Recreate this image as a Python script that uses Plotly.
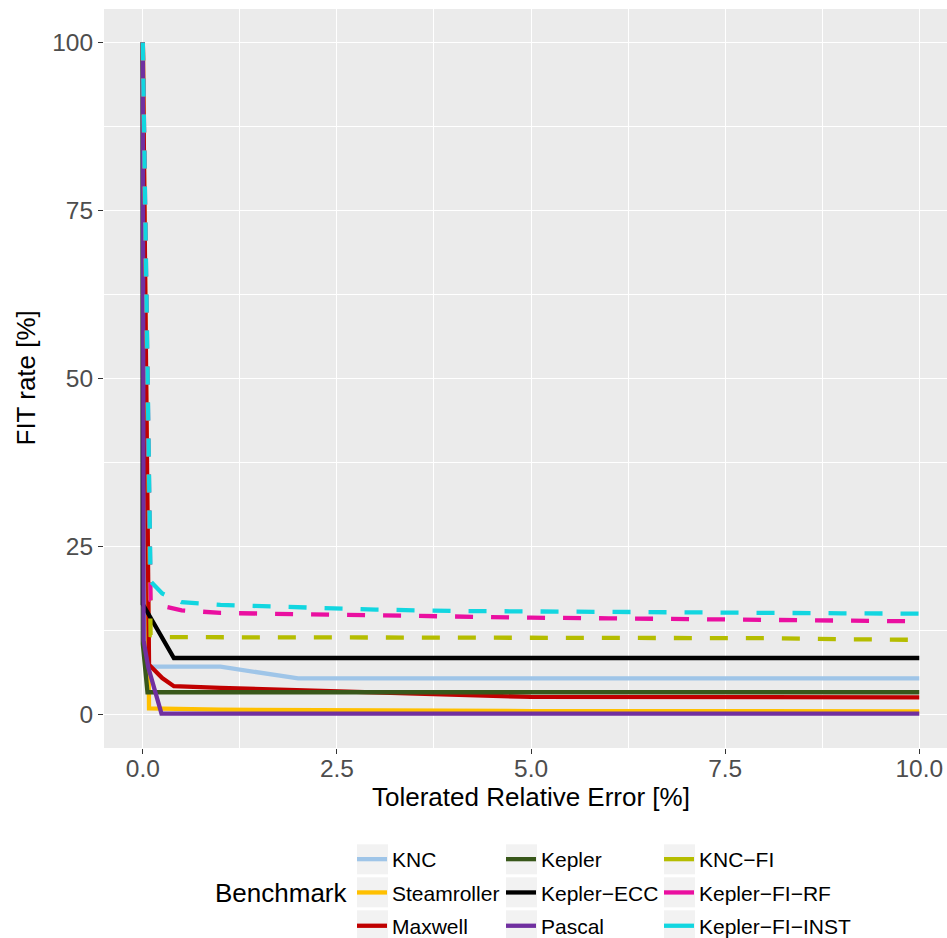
import plotly.graph_objects as go

# Benchmark names, colours and dash styles (solid = beam data, dashed = fault injection)
benchmarks = ["KNC", "Steamroller", "Maxwell", "Kepler", "Kepler\u2212ECC", "Pascal",
              "KNC\u2212FI", "Kepler\u2212FI\u2212RF", "Kepler\u2212FI\u2212INST"]
colors = ["#9FC5E8", "#FFC000", "#C00000", "#38571A", "#000000", "#7030A0",
          "#B5BD00", "#EA0FA0", "#12D6E0"]
dashes = ["solid"] * 6 + ["18px,18px"] * 3

# Tolerated relative error [%] and FIT rate [%] per benchmark
knc_x = [0, 0.06, 1.0, 2.0, 10]
knc_y = [100, 7.1, 7.1, 5.35, 5.35]

steam_x = [0, 0.08, 1, 3, 5, 10]
steam_y = [100, 0.9, 0.7, 0.55, 0.5, 0.45]

maxwell_x = [0, 0.08, 0.25, 0.4, 1, 2, 3, 4, 5, 10]
maxwell_y = [100, 7.4, 5.4, 4.2, 3.95, 3.6, 3.2, 2.85, 2.6, 2.55]

kepler_x = [0, 0, 0.06, 10]
kepler_y = [100, 10.5, 3.3, 3.3]

kepler_ecc_x = [0, 0, 0.4, 10]
kepler_ecc_y = [100, 16.4, 8.4, 8.4]

pascal_x = [0, 0.01, 0.07, 0.24, 10]
pascal_y = [100, 11, 7, 0.12, 0.12]

knc_fi_x = [0, 0.1, 0.3, 3, 7, 8, 9, 10]
knc_fi_y = [100, 11.8, 11.5, 11.45, 11.4, 11.35, 11.2, 11.1]

kepler_fi_rf_x = [0, 0.1, 0.3, 0.5, 1, 2, 3, 4, 5, 6, 7, 8, 9, 10]
kepler_fi_rf_y = [100, 17, 16, 15.5, 15.1, 14.9, 14.7, 14.5, 14.4, 14.3, 14.2, 14.05, 13.95, 13.85]

kepler_fi_inst_x = [0, 0.1, 0.25, 0.5, 1, 2, 3, 4, 5, 6, 7, 8, 9, 10]
kepler_fi_inst_y = [100, 19.8, 18, 16.7, 16.3, 15.9, 15.6, 15.4, 15.3, 15.2, 15.15, 15.1, 15.05, 15.0]

series_x = [knc_x, steam_x, maxwell_x, kepler_x, kepler_ecc_x, pascal_x,
            knc_fi_x, kepler_fi_rf_x, kepler_fi_inst_x]
series_y = [knc_y, steam_y, maxwell_y, kepler_y, kepler_ecc_y, pascal_y,
            knc_fi_y, kepler_fi_rf_y, kepler_fi_inst_y]

x_ticks = [0, 2.5, 5, 7.5, 10]
x_tick_text = ["0.0", "2.5", "5.0", "7.5", "10.0"]
x_minor = [1.25, 3.75, 6.25, 8.75]
y_ticks = [0, 25, 50, 75, 100]
y_minor = [12.5, 37.5, 62.5, 87.5]

W, H = 947, 938
ML, MT, MB = 104, 9, 190
PW, PH = W - ML, H - MT - MB


def px_x(p):
    return (p - ML) / PW


def px_y(p):
    return (H - MB - p) / PH


legend_names = ["legend", "legend2", "legend3"]

fig = go.Figure()
# data lines
for i, (name, xs, ys) in enumerate(zip(benchmarks, series_x, series_y)):
    fig.add_trace(go.Scatter(
        x=xs, y=ys, mode="lines", name=name,
        line=dict(color=colors[i], width=4.3, dash=dashes[i]),
        legendgroup=name, showlegend=False,
    ))
# legend keys (solid swatches, three columns)
for i, name in enumerate(benchmarks):
    fig.add_trace(go.Scatter(
        x=[None], y=[None], mode="lines", name=name,
        line=dict(color=colors[i], width=4.3),
        legend=legend_names[i // 3], legendgroup=name, showlegend=True,
    ))

FONT = "Liberation Sans, Arial, sans-serif"
tick_font = dict(family=FONT, size=24.5, color="#4D4D4D")
title_font = dict(family=FONT, size=26, color="black")
legend_font = dict(family=FONT, size=21, color="black")

axis_common = dict(
    showgrid=True, gridcolor="white", gridwidth=1.4,
    zeroline=False, showline=False,
    ticks="outside", ticklen=5, tickwidth=1.1, tickcolor="#333333",
    tickfont=tick_font, tickmode="array", automargin=False,
)

fig.update_xaxes(
    range=[-0.5, 10.357], tickvals=x_ticks, ticktext=x_tick_text,
    ticklabelstandoff=-6,
    minor=dict(tickmode="array", tickvals=x_minor, showgrid=True,
               gridcolor="white", gridwidth=0.7, ticks=""),
    **axis_common,
)
fig.update_yaxes(
    range=[-5, 105], tickvals=y_ticks,
    minor=dict(tickmode="array", tickvals=y_minor, showgrid=True,
               gridcolor="white", gridwidth=0.7, ticks=""),
    **axis_common,
)

col_left = [352, 501, 659]
legend_top = 839
leg = {}
for k, lname in enumerate(legend_names):
    leg[lname] = dict(
        xref="container", yref="container",
        x=col_left[k] / W, y=1 - legend_top / H,
        xanchor="left", yanchor="top",
        orientation="v", font=legend_font, bgcolor="rgba(0,0,0,0)",
        tracegroupgap=3, itemwidth=30, borderwidth=0,
    )

# grey key backgrounds behind the legend swatches
shapes = []
key_cols = [357, 506, 664]
for cx in key_cols:
    for r in range(3):
        top = 844.3 + r * 33
        shapes.append(dict(
            type="rect", xref="paper", yref="paper", layer="below",
            x0=px_x(cx), x1=px_x(cx + 31),
            y0=px_y(top), y1=px_y(top + 30),
            line=dict(width=0), fillcolor="#F2F2F2",
        ))

annotations = [
    dict(text="Benchmark", xref="paper", yref="paper",
         x=px_x(212.7), y=px_y(893), xanchor="left", yanchor="middle",
         showarrow=False, font=title_font),
    dict(text="Tolerated Relative Error [%]", xref="paper", yref="paper",
         x=px_x(531), y=px_y(797), xanchor="center", yanchor="middle",
         showarrow=False, font=title_font),
    dict(text="FIT rate [%]", xref="paper", yref="paper", textangle=-90,
         x=px_x(25), y=px_y(378.5), xanchor="center", yanchor="middle",
         showarrow=False, font=title_font),
]

fig.update_layout(
    width=W, height=H, autosize=False,
    margin=dict(l=ML, r=0, t=MT, b=MB, pad=0, autoexpand=False),
    paper_bgcolor="white", plot_bgcolor="#EBEBEB",
    showlegend=True,
    shapes=shapes,
    annotations=annotations,
    **leg,
)

fig.write_html("out.html")
